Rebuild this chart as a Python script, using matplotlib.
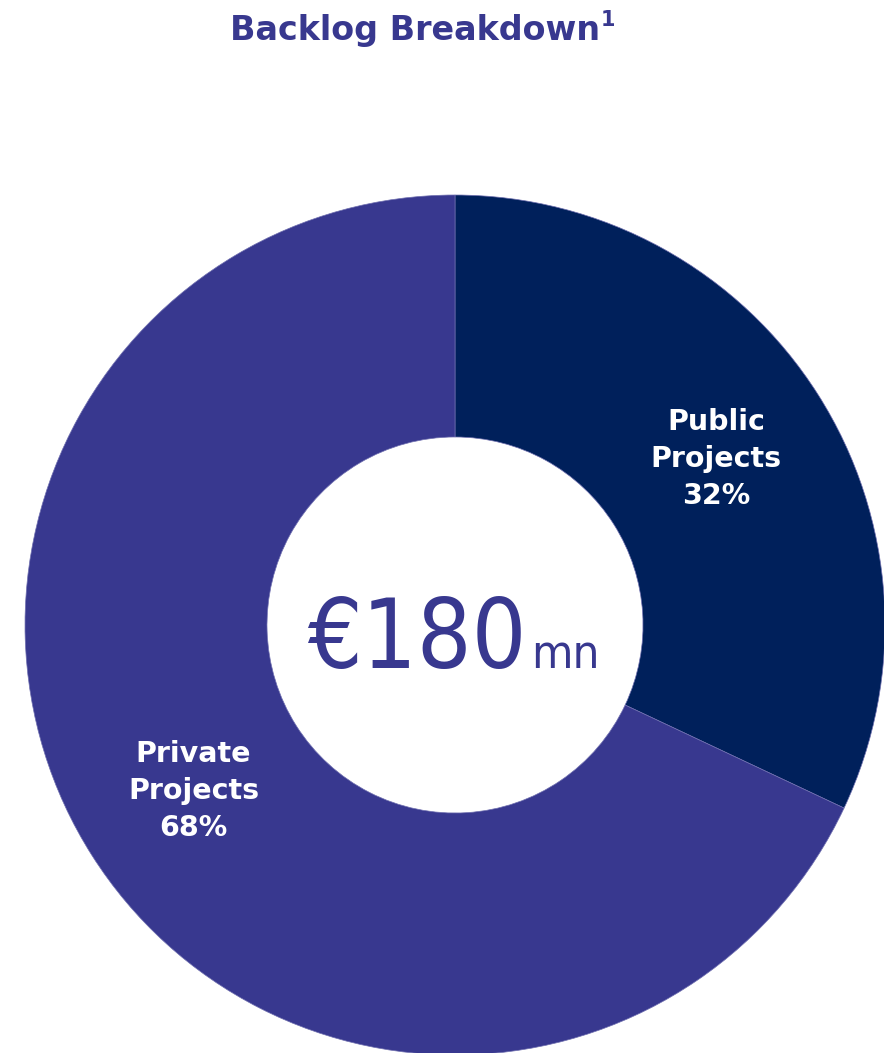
import matplotlib
matplotlib.use("Agg")
import matplotlib.pyplot as plt

# backlog split (share of total, %)
segments = ["Public\nProjects", "Private\nProjects"]
shares = [32, 68]
total_label = "€180"
total_unit = "mn"

navy = "#00205B"
purple = "#38388F"

W, H = 884, 1053
fig = plt.figure(figsize=(W / 100, H / 100), dpi=100)
ax = fig.add_axes([0, 0, 1, 1])

cx, cy = 455, H - 625
r_out, r_in = 430, 188


def fmt(pct):
    i = min(range(len(shares)), key=lambda k: abs(shares[k] - pct))
    return f"{segments[i]}\n{shares[i]}%"


wedges, _, autotexts = ax.pie(
    shares, center=(cx, cy), radius=r_out, startangle=90, counterclock=False,
    colors=[navy, purple], autopct=fmt, pctdistance=0.72, labels=None,
    wedgeprops=dict(width=r_out - r_in, edgecolor="#7070b0", linewidth=0.5),
    frame=True,
)
ax.set_xlim(0, W)
ax.set_ylim(0, H)
ax.set_aspect("equal")
ax.axis("off")
for t in autotexts:
    t.set_color("white")
    t.set_fontsize(20.5)
    t.set_fontweight("bold")
    t.set_linespacing(1.42)

# centre total
ax.text(527, H - 668, total_label, ha="right", va="baseline", fontsize=69,
        color=purple, fontstretch="condensed")
ax.text(531, H - 668, total_unit, ha="left", va="baseline", fontsize=34,
        color=purple, fontstretch="condensed")

# title
fig.text(0.470, 1 - 40 / H, "Backlog Breakdown", ha="center", va="baseline",
         fontsize=24, fontweight="bold", color=purple)
fig.text(0.679, 1 - 26 / H, "1", ha="left", va="baseline",
         fontsize=15, fontweight="bold", color=purple)

fig.savefig("out.png", dpi=100)
